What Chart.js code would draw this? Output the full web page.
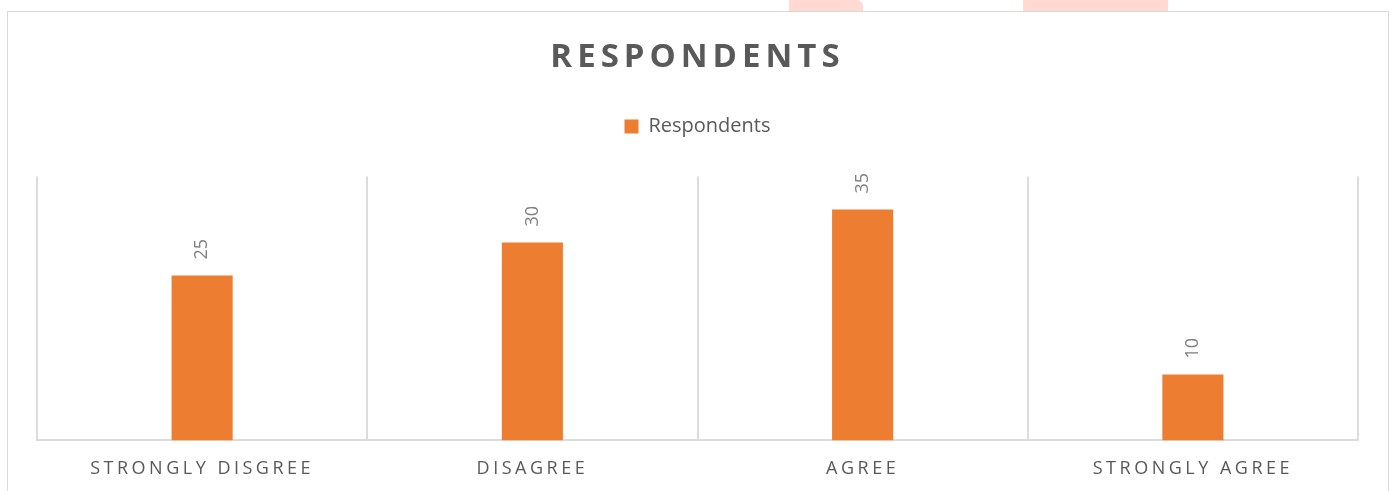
<!DOCTYPE html>
<html>
<head>
<meta charset="utf-8">
<script src="https://cdn.jsdelivr.net/npm/chart.js@4.4.1/dist/chart.umd.min.js"></script>
<style>
  html, body { margin: 0; padding: 0; background: #fff; }
  body { width: 1393px; height: 491px; position: relative; overflow: hidden; }
  #frame { position: absolute; left: 7px; top: 11px; width: 1380px; height: 500px; border: 1px solid #d9d9d9; }
  .mark { position: absolute; top: 0; height: 11px; background: #ffd9d2; }
  #chartBox { position: absolute; left: 0; top: 0; }
</style>
</head>
<body>
<div class="mark" style="left:789px;width:74px;border-top-right-radius:6px;"></div>
<div class="mark" style="left:1023px;width:145px;"></div>
<div id="frame"></div>
<canvas id="chartBox" width="1393" height="491"></canvas>
<script>
// ---------- data ----------
const categories = ['STRONGLY DISGREE', 'DISAGREE', 'AGREE', 'STRONGLY AGREE'];
const respondents = [25, 30, 35, 10];
const seriesName = 'Respondents';
const titleText = 'RESPONDENTS';

const COLORS = {
  bar: '#ED7D31',
  text: '#595959',
  label: '#7f7f7f',
  line: '#dcdcdc',
};

const FONT = "'Open Sans', sans-serif";

// spaced-out text like the office chart style
const spacing = {
  id: 'spacing',
  afterInit(chart) {
    const legend = chart.legend;
    const fit = legend.fit;
    legend.fit = function () { fit.call(legend); this.height += 30; };
    const legendDraw = legend.draw;
    legend.draw = function (area) {
      chart.ctx.save(); chart.ctx.letterSpacing = '0px';
      legendDraw.call(legend, area);
      chart.ctx.restore();
    };
    const title = chart.titleBlock;
    const titleDraw = title.draw;
    title.draw = function (area) {
      chart.ctx.save(); chart.ctx.letterSpacing = '5px';
      titleDraw.call(title, area);
      chart.ctx.restore();
    };
  },
  beforeDraw(chart) { chart.ctx.letterSpacing = '3.5px'; },
  afterDraw(chart) { chart.ctx.letterSpacing = '0px'; }
};

// rotated value labels above bars
const barValues = {
  id: 'barValues',
  afterDatasetsDraw(chart) {
    const ctx = chart.ctx;
    const meta = chart.getDatasetMeta(0);
    meta.data.forEach((bar, i) => {
      ctx.save();
      ctx.letterSpacing = '0px';
      ctx.translate(bar.x, bar.y - 16);
      ctx.rotate(-Math.PI / 2);
      ctx.font = `18px ${FONT}`;
      ctx.fillStyle = COLORS.label;
      ctx.textAlign = 'left';
      ctx.textBaseline = 'middle';
      ctx.fillText(String(chart.data.datasets[0].data[i]), 0, 0);
      ctx.restore();
    });
  }
};

new Chart(document.getElementById('chartBox'), {
  type: 'bar',
  data: {
    labels: categories,
    datasets: [{
      label: seriesName,
      data: respondents,
      backgroundColor: COLORS.bar,
      borderWidth: 0,
      categoryPercentage: 1,
      barPercentage: 0.185,
    }]
  },
  options: {
    responsive: false,
    animation: false,
    devicePixelRatio: 1,
    layout: { padding: { left: 37, right: 35, top: 0, bottom: -7 } },
    plugins: {
      title: {
        display: true,
        text: titleText,
        color: COLORS.text,
        font: { family: FONT, size: 33, weight: 'bold' },
        padding: { top: 38, bottom: 29 },
      },
      legend: {
        display: true,
        labels: {
          boxWidth: 14, boxHeight: 14,
          color: COLORS.text,
          font: { family: FONT, size: 20 },
          padding: 10,
        }
      },
      tooltip: { enabled: false },
    },
    scales: {
      x: {
        grid: { display: true, offset: true, color: COLORS.line, lineWidth: 2, drawTicks: false },
        border: { display: true, color: COLORS.line, width: 2 },
        ticks: { color: COLORS.text, font: { family: FONT, size: 18 }, padding: 18, maxRotation: 0 },
      },
      y: {
        display: false,
        min: 0,
        max: 40,
      }
    }
  },
  plugins: [spacing, barValues]
});
</script>
</body>
</html>
